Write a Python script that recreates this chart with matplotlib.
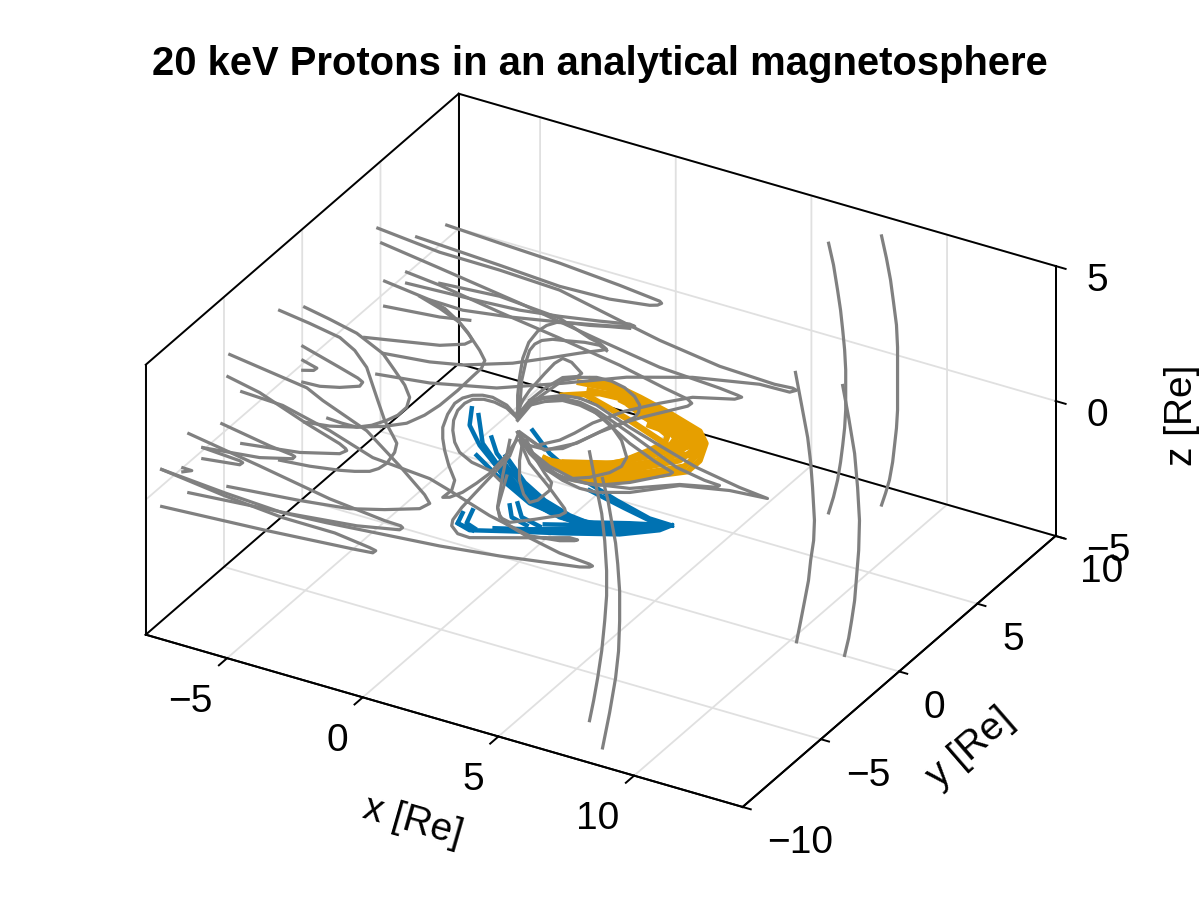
import matplotlib
matplotlib.use("Agg")
import matplotlib.pyplot as plt

plt.rcParams['font.family'] = ['Liberation Sans', 'DejaVu Sans']
plt.rcParams['grid.color'] = (0.88, 0.88, 0.88)
plt.rcParams['grid.linewidth'] = 1.3
plt.rcParams['xtick.major.width'] = 1.4
plt.rcParams['ytick.major.width'] = 1.4

TITLE = '20 keV Protons in an analytical magnetosphere'
x_ticks = [-5, 0, 5, 10]
y_ticks = [-10, -5, 0, 5, 10]
z_ticks = [-5, 0, 5]

# Field lines: one constant y per line, x and z along the line
gray_y = [4, 4, 4, 4, 4, 4, 0, 4, 0, 0, 0, -2, 0, -6, -6, -8, -8, -9, -9, -9, -9, -6,
          0, 0, 0, 0, 0, 0, 0, 0, 0, 0, 0, 0, 7.65, 8.9, 0, 0, -7.7, -9]
gray_x = [
 [-4.98,-3.03,-.82,1.39,2.68,2.87,2.94,2.79,2.5,1.02,-.82,-3.03,-6.09],
 [-7.52,-5.24,-3.03,-.82,1.39,2.87,5.08,7.1,7.77,7.91,7.66,6.55,4.08,1.65,-.71,-3.14,-5.61,-7.56],
 [-7.38,-5.24,-2.29,.66,2.87,5.08,5.74,5.89,5.63,4.08,2.87,1.58,.4,-.27,-.82,-1.63,-2.29],
 [-6.46,-5.24,-3.03,-.82,1.39,3.05,3.9,4.05,3.9,3.6,2.24,1.02,-.19,-1.37,-2.29],
 [-7.27,-5.61,-4.39,-2.66,-.71,.66,1.76,1.95,1.76,.66,-.82,-2.29,-3.77,-6.46],
 [-7.34,-5.61,-4.39,-2.55,-1.19,-.08,.73,.91,.66,.29,-.82,-3.03,-5.24],
 [-5.7,-2.93,-2.01,-1.72,-1.9,-2.2,-2.93,-3.67],
 [-7.27,-5.24,-4.13],
 [-7.98,-7.65,-7.46,-7.58,-7.98],
 [-7.98,-6.62,-5.95,-5.77,-5.88,-6.62,-7.35,-7.98],
 [-7.91,-6.99,-5.99,-5.03,-4.59,-4.22,-4.04,-4.15,-4.48,-4.89,-5.44,-5.99,-6.54,-7.06],
 [-7.68,-6.57,-5.46,-4.91,-4.47,-4.25,-4.06,-3.81,-3.51,-3.36,-3.44,-3.73,-4.03,-4.36,-4.91,-5.46,-6.57,-7.68],
 [-7.91,-6.99,-5.99,-4.96,-4.15,-3.49,-2.93,-2.27,-1.72,-1.39,-1.27,-1.46,-1.83,-2.27,-2.75,-3.3],
 [-7.28,-6.11,-4.37,-3.16,-2.94,-2.9,-3.16,-4.63,-6.77],
 [-7.21,-4.37,-3.78,-2.16,-.95,-.03,.16,-.21,-1.5,-2.79,-4.63,-7.28],
 [-6.35,-4.58,-3.77,-3.66,-3.74,-4.95,-7.05],
 [-7.05,-5.69,-5.58,-5.69,-7.05],
 [-7.21,-6.88,-7.21],
 [-6.99,-4.38,-1.8,.23,.82,.89,.78,-.8,-3.27,-6.99],
 [-7.99,-4.12,-.95,-.21,-.1,-.32,-1.61,-3.53,-5.67,-7.99],
 [4.73,4.39,4.47,4.65,5.57,6.68,7.78,7.89,7.78,7.42,4.47,2.26,-1.91,-3.53,-5.67,-7.99],
 [-6.77,-5.26,-3.53,-1.94,.16,.9,2.37,3.84,4.95,5.5,5.61,5.32,3.47,1.63,1.19,.97,1.01,1.34,1.82,2.44,3.11,3.4],
 [-.06,-.46,-.98,-1.35,-1.72,-2.09,-2.38,-2.64,-2.82,-2.82,-2.75,-2.6,-2.38,-2.49,-2.82,-2.56,-2.09,-1.57,-1.09,-.54,-.1],
 [-.06,-.46,-.91,-1.31,-1.72,-2.01,-2.27,-2.42,-2.45,-2.38,-2.2,-1.75,-1.09,-.72],
 [.13,.01,.01,.16,.38,.68,1.12,1.19,.94,.57,.27],
 [-.35,-.61,-.8,-.72,-.35,.57,1.49,1.71,1.67,1.05,.38,.01],
 [-.06,.13,.38,.94,1.6,2.23,2.85,4.07,5.17,6.54,8.12,9.15,7.75,5.91,4.07,2.85,2.23,1.6,.94,.38,.13,-.06],
 [-.06,.13,.38,.94,1.6,2.23,2.85,4.07,5.8,6.83,7.38,7.27,5.91,4.07,2.48,1.67,1.01,.38,-.06],
 [-.06,.13,.38,.94,1.6,2.23,2.85,4.07,4.99,5.65,5.54,4.07,2.85,1.6,.94,.38,-.06],
 [-.06,-.06,.01,.13,.35,.68,1.01,1.38,2.04,2.59,3.33,4.07],
 [.01,.05,.09,.24,.38,.57,.83,1.23,1.67,2.41,2.96,3.22],
 [-.1,.13,.38,.94,1.3,1.6,1.93,2.3,2.15,1.6,.94,.38,-.06],
 [-.06,.57,1.6,2.23,2.85,3.4,3.88,4.25,4.44,4.4,4.25,3.7,2.96,2.23,1.6,.94,.38,.01],
 [.38,.94,1.6,2.59,3.33,3.77,3.96,3.77,3.33,2.59,1.97,1.12,.38],
 [6.99,7.17,7.32,7.43,7.51,7.58,7.62,7.62,7.62,7.58,7.51,7.43,7.32,7.17,6.99],
 [8.22,8.4,8.55,8.66,8.77,8.81,8.81,8.81,8.81,8.77,8.7,8.63,8.51,8.37,8.22],
 [10.18,10.41,10.63,10.74,10.81,10.88,10.85,10.74,10.66,10.52,10.37,10.22],
 [11.92,12.14,12.36,12.47,12.54,12.51,12.43,12.36,12.25,12.14,11.99],
 [7.03,7.25,7.48,7.59,7.66,7.66,7.59,7.48,7.33,7.18,7.03],
 [8.26,8.45,8.59,8.74,8.82,8.89,8.89,8.85,8.74,8.52,8.26],
]
gray_z = [
 [4.02,3.92,3.82,3.64,3.5,3.48,3.42,3.31,3.22,3.02,2.96,3.1,3.26],
 [3.17,2.94,2.92,2.82,2.34,2.03,1.71,1.63,1.68,1.64,1.5,1.47,1.01,.31,-.6,-1.48,-2.01,-2.25],
 [2.66,2.35,1.91,1.39,1.03,.9,.83,.8,.65,.27,-.3,-.97,-1.75,-2.32,-2.74,-3.16,-2.9],
 [1.85,1.72,1.36,1.04,.68,.31,.15,.04,-.11,-.27,-1,-1.72,-2.67,-3.27,-2.86],
 [1.28,1.07,1.04,1.29,1.66,1.95,2.2,2.28,2.31,2.1,1.85,1.65,1.56,1.44],
 [-1.41,-1.23,-.99,-.39,.2,.7,1.04,1.13,1.28,1.36,1.78,1.95,1.79],
 [1.66,2.17,2.48,2.7,2.95,3.23,3.54,3.77],
 [.35,.54,.74],
 [.15,.06,.01,-.11,-.22],
 [.67,.28,.08,-.02,-.2,-.46,-.63,-.66],
 [2.14,1.96,1.73,1.26,.76,.32,-.08,-.48,-.87,-1.18,-1.52,-1.75,-1.76,-1.73],
 [3.09,2.93,2.73,2.41,1.91,1.31,.8,.14,-.33,-.58,-.94,-1.43,-1.71,-1.91,-2.07,-2.19,-2.36,-2.46],
 [-2.12,-2,-1.75,-1.42,-1.07,-.58,-.05,.69,1.37,1.77,2.09,2.41,2.86,3.28,3.59,3.73],
 [2.76,2.51,1.86,1.47,1.35,1.29,1.1,.72,.43],
 [3.6,3.19,2.89,2.24,1.29,.49,.22,-.08,-.49,-.83,-1.06,-1.31],
 [2.29,1.98,1.89,1.85,1.75,1.44,1.2],
 [1.2,1.11,1.07,.96,.79],
 [.91,.9,.76],
 [2.24,1.8,1.33,1.11,1.09,1.04,.93,.62,.35,.05],
 [-.75,-.52,-.28,-.21,-.1,-.05,.12,.13,.32,.62],
 [4.07,2.79,2.55,2.31,2.02,1.78,1.69,1.65,1.58,1.48,1.03,.76,.41,.31,.43,.62],
 [2.35,2.28,1.85,1.31,1.14,.91,.41,.09,.23,.39,.45,.45,-.09,-.62,-.6,-.37,-.14,.41,1.07,1.91,2.84,3.67],
 [.33,.67,.81,.78,.67,.46,.18,-.3,-.84,-1.25,-1.67,-2.18,-2.67,-3.07,-3.43,-3.35,-3.03,-2.54,-2.04,-1.29,-.53],
 [.29,.56,.65,.64,.52,.29,-.05,-.46,-.84,-1.26,-1.58,-1.82,-1.93,-2.19],
 [-.46,-1.24,-1.98,-2.45,-2.69,-2.52,-2.03,-1.72,-1.45,-.96,-.42],
 [-.6,-1.98,-3.21,-3.56,-3.64,-3.26,-2.85,-2.67,-2.54,-1.87,-1.24,-.5],
 [.29,.65,.98,1.36,1.63,1.71,1.63,1.16,.81,.39,.11,0,-.11,-.46,-1.25,-1.6,-1.63,-1.52,-1.27,-.87,-.57,-.22],
 [.29,.69,1.02,1.33,1.52,1.56,1.44,.94,.18,0,-.03,-.13,-.42,-1.1,-1.37,-1.39,-1.32,-.76,-.22],
 [.29,.61,.91,1.21,1.44,1.45,1.33,.57,.17,-.05,-.16,-.88,-1.34,-1.45,-1.16,-.76,-.22],
 [.48,1.15,1.83,2.58,3.23,3.74,4.05,4.27,4.42,4.51,4.68,4.83],
 [.5,1.18,1.75,2.46,2.94,3.23,3.44,3.6,3.68,3.83,3.88,3.76],
 [.47,1.02,1.46,2.25,2.73,3,2.95,2.65,2.49,2.29,1.7,1.09,.41],
 [.22,1.15,2.18,2.48,2.66,2.68,2.58,2.36,2.09,1.81,1.58,1.16,.66,.11,-.34,-.56,-.58,-.31],
 [1.09,1.36,1.55,1.44,1.09,.59,.02,-.37,-.73,-1.12,-1.34,-1.14,-.76],
 [4.99,4.24,3.35,2.64,1.92,1.21,.48,-.26,-1,-1.68,-2.34,-2.99,-3.69,-4.36,-5],
 [4.99,4.22,3.46,2.67,1.85,1.04,.19,-.55,-1.29,-1.97,-2.62,-3.26,-3.97,-4.49,-4.98],
 [4.97,3.81,2.69,1.8,.89,-.31,-1.06,-1.83,-2.6,-3.38,-4.2,-5],
 [4.99,3.87,2.6,1.37,.17,-.95,-1.97,-2.85,-3.62,-4.31,-4.99],
 [4.98,3.9,2.82,1.85,.76,-.17,-1.12,-2.26,-3.31,-4.2,-4.98],
 [5,4.3,3.53,2.75,1.99,1.01,-.1,-1.22,-2.25,-3.6,-4.98],
]

# Proton traces, all in the y = 0 plane of the view
blue_x = [
 [-2.27,-1.83,-.35,1.49,3.7,5.17,5.62],
 [-2.09,-2.27,-1.72],
 [-1.72,-1.94,-1.64],
 [-.35,-.28,.27],
 [-.06,.09,.75],
 [-.91,1.49,3.7,5.62],
 [.38,2.96,5.62],
 [.94,2.96,5.62],
 [2.59,4.07,5.62],
 [-1.75,-1.83,-1.46,-.72,.38,1.86,3.7,5.62],
 [-1.5,-1.35,-.83,.01,1.67,3.33],
 [-1.02,-.83,-.35,.38,1.86],
 [-1.57,-.83,.38,1.6],
 [-.5,-.06,.57,1.3,2.41],
 [-.43,.2,.94,1.86,2.59],
 [-.72,-.17,.57,1.49,2.59],
 [.49,1.12,1.97,3.59,4.8,5.62],
 [2.59,3.88,5.17],
 [-1.09,-.54,.2,1.12,2.23],
]
blue_z = [
 [-4.23,-4.36,-3.97,-3.51,-2.91,-2.33,-2.02],
 [-3.8,-4.23,-4.33],
 [-3.59,-4.13,-4.24],
 [-3.01,-3.43,-3.57],
 [-2.85,-3.32,-3.47],
 [-4.02,-3.4,-2.8,-2.02],
 [-3.69,-2.9,-2.02],
 [-3.34,-2.79,-2.02],
 [-2.79,-2.39,-2.02],
 [.18,-.47,-1.11,-1.82,-2.5,-2.85,-2.69,-2.02],
 [0,-1,-1.59,-2.35,-2.91,-2.8],
 [-.69,-1.22,-1.71,-2.32,-2.92],
 [-1.51,-2.04,-2.72,-2.89],
 [-1.23,-1.82,-2.37,-2.71,-2.84],
 [-1.29,-2,-2.45,-2.74,-2.82],
 [-1.52,-2.1,-2.63,-2.92,-2.9],
 [.01,-.66,-1.15,-1.68,-2,-2.02],
 [-1.6,-1.89,-2.15],
 [-1.38,-2.07,-2.59,-2.85,-2.96],
]
orange_x = [
 [1.19,2.04,3.4,4.8,6.2,6.65,6.87,6.65,5.54,4.44,3.44,2.67],
 [.94,1.93,3.4,4.8,6.09,6.54,6.72,6.46,5.36,4.25,3.33,2.23],
 [.94,2.04,3.4,4.8,5.91,6.39,6.54,6.28,5.17,4.07,2.96,1.6],
 [1.05,2.23,3.4,4.8,5.73,6.2,6.28,5.91,4.8,3.88,2.59],
 [1.67,3.4,4.8,5.54,5.98,5.91,5.17,4.25,3.33],
 [2.59,3.7,4.8,5.54,5.76,5.47,4.62,3.77],
 [4.07,4.8,5.36,5.47,4.8,4.07],
 [1.67,2.96,4.44,5.62,6.09],
 [5.47,4.8,4.07,3.33,2.48],
 [5.17,5.91,6.5],
 [4.8,5.54,6.28,6.65],
 [4.44,5.36,6.09,6.54],
 [5.54,6.28,6.65],
]
orange_z = [
 [-.97,-1.35,-1.03,-.44,.15,.68,1.38,1.76,2.11,2.38,2.57,2.53],
 [-.9,-1.2,-.88,-.29,.3,.84,1.37,1.74,2.05,2.29,2.39,2.29],
 [-.9,-1.02,-.7,-.07,.47,.98,1.39,1.76,2.07,2.16,2.1,1.63],
 [-.94,-.78,-.55,.08,.6,1.11,1.43,1.77,2.08,2.22,2.1],
 [-.83,-.37,.3,.73,1.23,1.58,1.81,2.14,2.24],
 [-.71,-.24,.45,.88,1.24,1.53,1.88,2.07],
 [.01,.52,.94,1.27,1.63,1.97],
 [-.98,-.83,-.25,.57,1.27],
 [.9,1.15,1.42,1.65,1.89],
 [.55,.92,1.2],
 [1.45,1.4,1.32,1.17],
 [1.72,1.61,1.56,1.5],
 [.66,.76,1.06],
]
X0, X1, Y0, Y1, Z0, Z1 = -8, 14, -10, 10, -5, 5

fig = plt.figure(figsize=(12, 9), dpi=100)
ax = fig.add_axes([-11.5/1200, -12.5/900, 1, 1], projection='3d',
                  proj_type='ortho', computed_zorder=False)
ax.set_xlim(X0, X1); ax.set_ylim(Y0, Y1); ax.set_zlim(Z0, Z1)
ax.set_box_aspect((1.3787, 1.252, .6235), zoom=1.059)
ax.view_init(elev=30, azim=-60)
ax.set_xticks(x_ticks); ax.set_yticks(y_ticks); ax.set_zticks(z_ticks)
for a, f in ((ax.xaxis, .33), (ax.yaxis, .17), (ax.zaxis, 0)):
    a.pane.set_facecolor('white'); a.pane.set_edgecolor('none')
    a.line.set_color('k'); a.line.set_linewidth(1.4)
    a._axinfo['tick']['inward_factor'] = f
    a._axinfo['tick']['outward_factor'] = 0
ax.xaxis.set_tick_params(labelsize=28, pad=8)
ax.yaxis.set_tick_params(labelsize=28, pad=6)
ax.zaxis.set_tick_params(labelsize=28, pad=3.5)
for t in ax.get_xticklabels(): t.set_ha('right')
for t in ax.get_yticklabels(): t.set_ha('left')
for t in ax.get_zticklabels(): t.set_ha('left')
fig.text(413/1200, 1 - 822/900, 'x [Re]', rotation=-16, fontsize=28, ha='center', va='center')
fig.text(970/1200, 1 - 748/900, 'y [Re]', rotation=41, fontsize=28, ha='center', va='center')
fig.text(1182/1200, 1 - 415/900, 'z [Re]', rotation=90, fontsize=28, ha='center', va='center')
ax.set_title(TITLE, fontsize=28.8, fontweight='bold', x=.5128, y=1.0018)
edges = [((X0, X0), (Y0, Y0), (Z0, Z1)), ((X0, X0), (Y1, Y1), (Z0, Z1)), ((X1, X1), (Y1, Y1), (Z0, Z1)),
         ((X0, X0), (Y0, Y1), (Z1, Z1)), ((X0, X1), (Y1, Y1), (Z1, Z1)), ((X0, X0), (Y0, Y1), (Z0, Z0)),
         ((X0, X1), (Y1, Y1), (Z0, Z0)), ((X0, X1), (Y0, Y0), (Z0, Z0)), ((X1, X1), (Y0, Y1), (Z0, Z0))]
for e in edges:
    ax.plot(*e, color='k', lw=1.4, zorder=2, clip_on=False)
for tz in z_ticks:
    ax.plot((X1, X1 + .37), (Y1, Y1), (tz, tz), color='k', lw=1.4, zorder=2, clip_on=False)
for xs, zs in zip(blue_x, blue_z):
    ax.plot(xs, zs, zs=0, zdir='y', color='#0072B2', lw=3.2, zorder=3, solid_joinstyle='round')
for xs, zs in zip(orange_x, orange_z):
    ax.plot(xs, zs, zs=0, zdir='y', color='#E69F00', lw=4.4, zorder=4, solid_joinstyle='round')
for xs, zs, y in zip(gray_x, gray_z, gray_y):
    ax.plot(xs, zs, zs=y, zdir='y', color='#808080', lw=2.3, zorder=5, solid_joinstyle='round')
ax.set_xlim(X0, X1); ax.set_ylim(Y0, Y1); ax.set_zlim(Z0, Z1)
fig.savefig('out.png', dpi=100)
